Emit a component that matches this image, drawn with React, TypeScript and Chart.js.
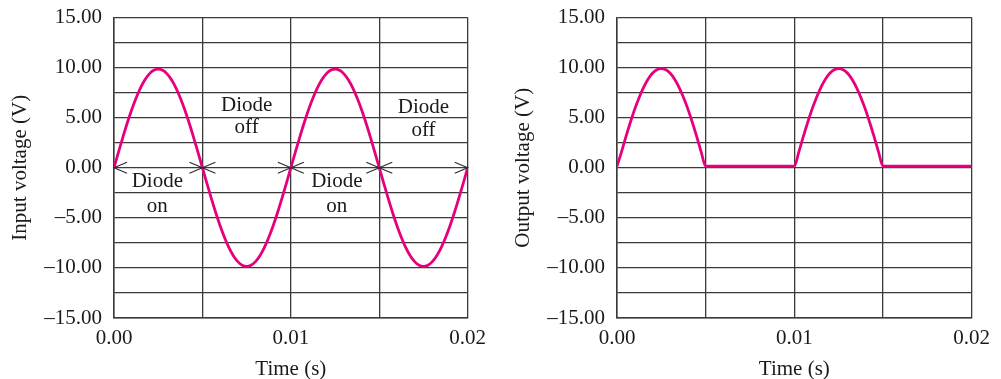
import React, { useEffect, useRef } from "react";
import { Chart, registerables } from "chart.js";

Chart.register(...registerables);

// ---- data ----
const timeSeconds = [
  0, 0.00025, 0.0005, 0.00075, 0.001, 0.00125, 0.0015, 0.00175, 0.002, 0.00225,
  0.0025, 0.00275, 0.003, 0.00325, 0.0035, 0.00375, 0.004, 0.00425, 0.0045, 0.00475,
  0.005, 0.00525, 0.0055, 0.00575, 0.006, 0.00625, 0.0065, 0.00675, 0.007, 0.00725,
  0.0075, 0.00775, 0.008, 0.00825, 0.0085, 0.00875, 0.009, 0.00925, 0.0095, 0.00975,
  0.01, 0.01025, 0.0105, 0.01075, 0.011, 0.01125, 0.0115, 0.01175, 0.012, 0.01225,
  0.0125, 0.01275, 0.013, 0.01325, 0.0135, 0.01375, 0.014, 0.01425, 0.0145, 0.01475,
  0.015, 0.01525, 0.0155, 0.01575, 0.016, 0.01625, 0.0165, 0.01675, 0.017, 0.01725,
  0.0175, 0.01775, 0.018, 0.01825, 0.0185, 0.01875, 0.019, 0.01925, 0.0195, 0.01975,
  0.02,
];

const inputVoltage = [
  0, 1.54, 3.04, 4.47, 5.79, 6.96, 7.97, 8.78, 9.37, 9.73,
  9.85, 9.73, 9.37, 8.78, 7.97, 6.96, 5.79, 4.47, 3.04, 1.54,
  0, -1.54, -3.04, -4.47, -5.79, -6.96, -7.97, -8.78, -9.37, -9.73,
  -9.85, -9.73, -9.37, -8.78, -7.97, -6.96, -5.79, -4.47, -3.04, -1.54,
  0, 1.54, 3.04, 4.47, 5.79, 6.96, 7.97, 8.78, 9.37, 9.73,
  9.85, 9.73, 9.37, 8.78, 7.97, 6.96, 5.79, 4.47, 3.04, 1.54,
  0, -1.54, -3.04, -4.47, -5.79, -6.96, -7.97, -8.78, -9.37, -9.73,
  -9.85, -9.73, -9.37, -8.78, -7.97, -6.96, -5.79, -4.47, -3.04, -1.54,
  0,
];

const outputVoltage = [
  0.15, 1.56, 3.08, 4.52, 5.85, 7.02, 8.03, 8.84, 9.43, 9.79,
  9.9, 9.79, 9.43, 8.84, 8.03, 7.02, 5.85, 4.52, 3.08, 1.56,
  0.15, 0.15, 0.15, 0.15, 0.15, 0.15, 0.15, 0.15, 0.15, 0.15,
  0.15, 0.15, 0.15, 0.15, 0.15, 0.15, 0.15, 0.15, 0.15, 0.15,
  0.15, 1.56, 3.08, 4.52, 5.85, 7.02, 8.03, 8.84, 9.43, 9.79,
  9.9, 9.79, 9.43, 8.84, 8.03, 7.02, 5.85, 4.52, 3.08, 1.56,
  0.15, 0.15, 0.15, 0.15, 0.15, 0.15, 0.15, 0.15, 0.15, 0.15,
  0.15, 0.15, 0.15, 0.15, 0.15, 0.15, 0.15, 0.15, 0.15, 0.15,
  0.15,
];

const voltTickLabels = [
  "\u201315.00", "", "\u201310.00", "", "\u20135.00", "", "0.00", "", "5.00", "", "10.00", "", "15.00",
];
const timeTickLabels = ["0.00", "", "0.01", "", "0.02"];

// annotations on the input chart
const arrowStarts = [0, 0.005, 0.01, 0.015];
const arrowEnds = [0.005, 0.01, 0.015, 0.02];
const arrowVolt = 0;
const noteTimes = [0.00245, 0.0075, 0.0126, 0.0175];
const noteWords = ["on", "off", "on", "off"];
const noteTopVolts = [-1.4, 6.2, -1.37, 6.03];
const noteBottomVolts = [-3.85, 3.97, -3.87, 3.7];

const FONT = "'Liberation Serif', 'Times New Roman', serif";
const FS = 21;
const PINK = "#E6007E";
const GRID = "#3a3a3a";
const TEXT = "#1a1a1a";

const annotationPlugin = {
  id: "diodeNotes",
  afterDatasetsDraw(chart: any) {
    const ctx = chart.ctx;
    const xs = chart.scales.x;
    const ys = chart.scales.y;
    ctx.save();
    ctx.strokeStyle = "#2a2a2a";
    ctx.lineWidth = 1.1;
    const y0 = ys.getPixelForValue(arrowVolt);
    for (let i = 0; i < arrowStarts.length; i++) {
      const a = xs.getPixelForValue(arrowStarts[i]);
      const b = xs.getPixelForValue(arrowEnds[i]);
      ctx.beginPath();
      ctx.moveTo(a + 13, y0 - 5.5);
      ctx.lineTo(a, y0);
      ctx.lineTo(a + 13, y0 + 5.5);
      ctx.moveTo(b - 13, y0 - 5.5);
      ctx.lineTo(b, y0);
      ctx.lineTo(b - 13, y0 + 5.5);
      ctx.stroke();
    }
    ctx.fillStyle = TEXT;
    ctx.font = `${FS}px ${FONT}`;
    ctx.textAlign = "center";
    ctx.textBaseline = "middle";
    for (let i = 0; i < noteTimes.length; i++) {
      const x = xs.getPixelForValue(noteTimes[i]);
      ctx.fillText("Diode", x, ys.getPixelForValue(noteTopVolts[i]));
      ctx.fillText(noteWords[i], x, ys.getPixelForValue(noteBottomVolts[i]));
    }
    ctx.restore();
  },
};

function buildConfig(values: number[], yTitle: string, padLeft: number, padRight: number, withNotes: boolean) {
  return {
    type: "line" as const,
    data: {
      datasets: [
        {
          data: timeSeconds.map((t, i) => ({ x: t, y: values[i] })),
          borderColor: PINK,
          borderWidth: 2.8,
          pointRadius: 0,
          cubicInterpolationMode: "monotone" as const,
          fill: false,
        },
      ],
    },
    options: {
      animation: false as const,
      responsive: false,
      layout: { padding: { left: padLeft, right: padRight, top: 17.5, bottom: 0 } },
      plugins: { legend: { display: false }, tooltip: { enabled: false } },
      scales: {
        x: {
          type: "linear" as const,
          min: 0,
          max: 0.02,
          afterBuildTicks: (s: any) => {
            s.ticks = [0, 0.005, 0.01, 0.015, 0.02].map((v) => ({ value: v }));
          },
          afterFit: (s: any) => {
            s.height = 61;
            s.paddingLeft = 0;
            s.paddingRight = 0;
          },
          grid: { color: GRID, lineWidth: 1.3, drawTicks: false, tickLength: 0 },
          border: { display: true, color: GRID, width: 1.5 },
          ticks: {
            autoSkip: false,
            maxRotation: 0,
            padding: 8,
            color: TEXT,
            font: { family: FONT, size: FS },
            callback: (_v: any, i: number) => timeTickLabels[i],
          },
          title: {
            display: true,
            text: "Time (s)",
            color: TEXT,
            font: { family: FONT, size: FS, lineHeight: 1 },
            padding: { top: 0, bottom: -1 },
          },
        },
        y: {
          type: "linear" as const,
          min: -15,
          max: 15,
          ticks: {
            stepSize: 2.5,
            autoSkip: false,
            padding: 12,
            color: TEXT,
            font: { family: FONT, size: FS },
            callback: (_v: any, i: number) => voltTickLabels[i],
          },
          afterFit: (s: any) => {
            s.width = 114;
            s.paddingTop = 0;
            s.paddingBottom = 0;
          },
          grid: { color: GRID, lineWidth: 1.3, drawTicks: false, tickLength: 0 },
          border: { display: true, color: GRID, width: 1.5 },
          title: {
            display: true,
            text: yTitle,
            color: TEXT,
            font: { family: FONT, size: FS, lineHeight: 1.2 },
            padding: { top: 7.5, bottom: 0 },
          },
        },
      },
    },
    plugins: withNotes ? [annotationPlugin] : [],
  };
}

export default function App() {
  const leftRef = useRef<HTMLCanvasElement | null>(null);
  const rightRef = useRef<HTMLCanvasElement | null>(null);

  useEffect(() => {
    const a = new Chart(leftRef.current as HTMLCanvasElement, buildConfig(inputVoltage, "Input voltage (V)", 0, 22.3, true) as any);
    const b = new Chart(rightRef.current as HTMLCanvasElement, buildConfig(outputVoltage, "Output voltage (V)", 13, 29.3, false) as any);
    return () => {
      a.destroy();
      b.destroy();
    };
  }, []);

  return (
    <div style={{ position: "fixed", left: 0, top: 0, width: 1001, height: 379, background: "#fff" }}>
      <canvas ref={leftRef} width={490} height={379} style={{ position: "absolute", left: 0, top: 0, width: 490, height: 379 }} />
      <canvas ref={rightRef} width={511} height={379} style={{ position: "absolute", left: 490, top: 0, width: 511, height: 379 }} />
    </div>
  );
}
